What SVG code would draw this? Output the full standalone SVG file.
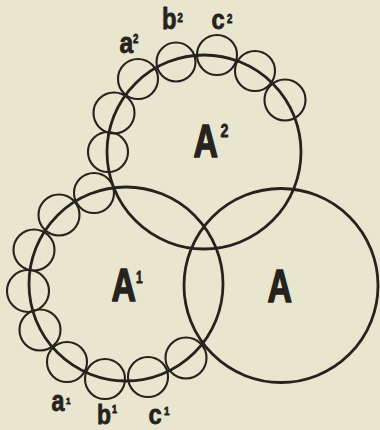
<svg xmlns="http://www.w3.org/2000/svg" width="380" height="430" viewBox="0 0 380 430">
<style>
.big{fill:none;stroke:#26221d;stroke-width:2.8}
.sm{fill:none;stroke:#26221d;stroke-width:2.1}
.L{font-family:"Liberation Sans",Arial,sans-serif;font-weight:bold;fill:#26221d;stroke:#26221d;stroke-width:0.8;stroke-linejoin:round}
.H{stroke-width:1.6}
</style>
<rect width="380" height="430" fill="#e9e6cf"/>
<g id="connectors">
<g id="chain-top">
<circle class="sm" cx="108" cy="152" r="20"/>
<circle class="sm" cx="114" cy="113" r="20.5"/>
<circle class="sm" cx="138" cy="79" r="20"/>
<circle class="sm" cx="176" cy="62" r="19.5"/>
<circle class="sm" cx="217" cy="55" r="20"/>
<circle class="sm" cx="255" cy="71" r="20"/>
<circle class="sm" cx="285" cy="100" r="20.5"/>
</g>
<g id="chain-left">
<circle class="sm" cx="94" cy="193" r="20"/>
<circle class="sm" cx="59" cy="215" r="20.5"/>
<circle class="sm" cx="34" cy="250" r="20.5"/>
<circle class="sm" cx="28" cy="291" r="21"/>
<circle class="sm" cx="40" cy="330" r="20.5"/>
<circle class="sm" cx="67" cy="362" r="20"/>
<circle class="sm" cx="105" cy="379" r="20"/>
<circle class="sm" cx="148" cy="377" r="20"/>
<circle class="sm" cx="186" cy="358" r="20.5"/>
</g>
</g>
<g id="A2">
<circle class="big" cx="204" cy="152" r="97"/>
<text class="L H" font-size="47" transform="translate(193.5,156.5) scale(0.72,1)">A</text>
<text class="L" font-size="19" transform="translate(220.5,137) scale(0.75,1)">2</text>
</g>
<g id="A1">
<circle class="big" cx="126" cy="284" r="97"/>
<text class="L H" font-size="47" transform="translate(111.5,300.5) scale(0.72,1)">A</text>
<text class="L" font-size="17" transform="translate(136,283) scale(0.7,1)">1</text>
</g>
<g id="A">
<circle class="big" cx="281" cy="285.5" r="97"/>
<text class="L H" font-size="47" transform="translate(267.5,301.5) scale(0.72,1)">A</text>
</g>
<g id="labels-top">
<text class="L" font-size="30" transform="translate(119.5,52.5) scale(0.82,1)">a</text>
<text class="L" font-size="12" transform="translate(133,43) scale(0.8,1)">2</text>
<text class="L" font-size="29" transform="translate(162,29) scale(0.82,1)">b</text>
<text class="L" font-size="12" transform="translate(177.5,22) scale(0.8,1)">2</text>
<text class="L" font-size="28" transform="translate(211.5,29) scale(0.85,1)">c</text>
<text class="L" font-size="12" transform="translate(227,23) scale(0.8,1)">2</text>
</g>
<g id="labels-bottom">
<text class="L" font-size="29" transform="translate(51.5,410.5) scale(0.8,1)">a</text>
<text class="L" font-size="9" transform="translate(66,404) scale(0.9,1)">1</text>
<text class="L" font-size="28" transform="translate(97,424) scale(0.82,1)">b</text>
<text class="L" font-size="10" transform="translate(112,413) scale(0.9,1)">1</text>
<text class="L" font-size="28" transform="translate(148.5,424) scale(0.85,1)">c</text>
<text class="L" font-size="11" transform="translate(164,415) scale(0.9,1)">1</text>
</g>
</svg>
